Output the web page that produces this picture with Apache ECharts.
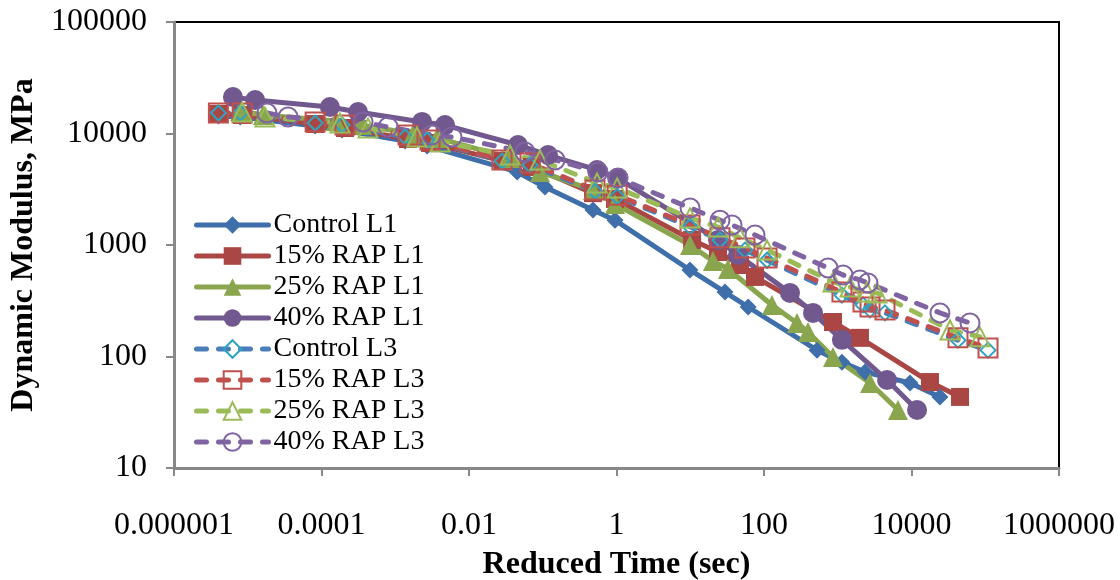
<!DOCTYPE html>
<html>
<head>
<meta charset="utf-8">
<script src="https://cdn.jsdelivr.net/npm/echarts@6/dist/echarts.min.js"></script>
<style>
   html, body { margin: 0; padding: 0; background: #fff; }
   #chart { width: 1120px; height: 580px; }
</style>
</head>
<body>
<div id="chart"></div>
<script>
   // 坐标轴刻度
   var xTickLabels = ['0.000001', '0.0001', '0.01', '1', '100', '10000', '1000000'];
   var yTickLabels = ['10', '100', '1000', '10000', '100000'];

   // Control L1
   var controlL1X = [0.000004, 0.0000079, 0.000082, 0.00019, 0.00136, 0.0027, 0.045, 0.107, 0.48, 0.955, 9.9, 29.6, 61, 523, 1140, 2340, 9550, 24300];
   var controlL1Y = [14360, 14060, 11670, 10740, 8570, 7730, 4520, 3310, 2060, 1670, 597, 378, 278, 114, 89, 72.6, 57.8, 43.4];
   // 15% RAP L1
   var rap15L1X = [0.000004, 0.0000084, 0.000082, 0.000208, 0.00149, 0.00296, 0.0289, 0.0714, 0.48, 0.955, 10.6, 23.8, 47.3, 75.5, 863, 2000, 17800, 45500];
   var rap15L1Y = [14960, 14660, 12160, 11200, 8930, 8230, 5660, 5010, 2920, 2590, 1110, 865, 662, 517, 204, 147, 59, 43.4];
   // 25% RAP L1
   var rap25L1X = [0.0000079, 0.0000161, 0.000157, 0.000354, 0.00174, 0.00368, 0.036, 0.0918, 0.48, 0.955, 9.93, 20.3, 32.5, 128, 280, 395, 863, 2740, 6560];
   var rap25L1Y = [15900, 14660, 12940, 11920, 9900, 9120, 6030, 4520, 3110, 2330, 1000, 720, 609, 290, 200, 166, 99, 57.8, 33.1];
   // 40% RAP L1
   var rap40L1X = [0.0000063, 0.0000126, 0.00013, 0.000313, 0.00231, 0.00473, 0.0461, 0.118, 0.545, 1.02, 23.8, 44.4, 225, 462, 1140, 4660, 11900];
   var rap40L1Y = [21200, 19950, 17300, 15600, 12700, 11900, 7890, 6410, 4710, 3990, 1110, 813, 372, 246, 141, 61.5, 33.1];
   // Control L3
   var controlL3X = [0.000004, 0.0000079, 0.000082, 0.00019, 0.00136, 0.0027, 0.028, 0.0671, 0.51, 1.02, 9.93, 25.3, 55.2, 110, 1140, 2200, 2740, 4370, 42700, 109000];
   var controlL3Y = [15280, 15280, 12410, 11920, 9310, 8750, 5660, 5220, 3030, 2720, 1460, 1110, 900, 730, 355, 290, 262, 246, 140, 114];
   // 15% RAP L3
   var rap15L3X = [0.000004, 0.0000084, 0.000082, 0.000208, 0.00149, 0.00296, 0.028, 0.0671, 0.51, 1.02, 9.93, 25.3, 55.2, 110, 1140, 2200, 2740, 4370, 42700, 109000];
   var rap15L3Y = [15280, 15280, 12680, 11920, 9710, 8750, 5780, 5430, 3110, 2800, 1510, 1160, 940, 764, 378, 308, 278, 261, 147, 119];
   // 25% RAP L3
   var rap25L3X = [0.0000084, 0.0000171, 0.000178, 0.000428, 0.00197, 0.00405, 0.036, 0.0918, 0.545, 1.02, 9.93, 23.8, 47.3, 110, 863, 1470, 2490, 3400, 33300, 84900];
   var rap25L3Y = [15600, 14060, 12410, 11200, 9310, 8400, 6410, 5780, 3600, 3250, 1750, 1450, 1160, 901, 466, 420, 378, 372, 173, 150];
   // 40% RAP L3
   var rap40L3X = [0.0000182, 0.0000352, 0.000366, 0.000798, 0.00315, 0.00587, 0.0574, 0.147, 0.561, 1.05, 9.93, 25.3, 36.8, 75.5, 738, 1180, 2000, 2570, 24300, 62100];
   var rap40L3Y = [15280, 14060, 12680, 11430, 9710, 9310, 6820, 5780, 4520, 3990, 2150, 1670, 1510, 1230, 622, 538, 486, 456, 246, 200];

   var serif = '"Liberation Serif", "Times New Roman", serif';

   function pairs(xs, ys){
      return xs.map(function(x, i){ return [x, ys[i]]; });
   }

   // L1: 实线 + 实心标记
   function solidSeries(name, xs, ys, color, symbol, size){
      return {
         name: name,
         type: 'line',
         data: pairs(xs, ys),
         symbol: symbol,
         symbolSize: size,
         lineStyle: {color: color, width: 5, cap: 'round', join: 'round'},
         itemStyle: {color: color},
         emphasis: {disabled: true}
      };
   }

   // L3: 虚线 + 空心标记
   function dashSeries(name, xs, ys, color, markColor, symbol, size){
      return {
         name: name,
         type: 'line',
         data: pairs(xs, ys),
         symbol: symbol,
         symbolSize: size,
         lineStyle: {color: color, width: 5, type: [10, 12], cap: 'round'},
         itemStyle: {color: 'rgba(255,255,255,0)', borderColor: markColor, borderWidth: 2},
         emphasis: {disabled: true}
      };
   }

   var myChart = echarts.init(document.getElementById('chart'));
   var option = {
      animation: false,
      grid: {
         left: 174, top: 22, right: 61, bottom: 112,
         outerBoundsMode: 'none',
         containLabel: false,
         show: true, borderColor: '#000', borderWidth: 2, backgroundColor: '#fff'
      },
      legend: {
         orient: 'vertical',
         left: 189,
         top: 206,
         itemWidth: 72,
         itemHeight: 22,
         itemGap: 3,
         lineStyle: {width: 5, cap: 'round'},
         textStyle: {fontFamily: serif, fontSize: 28, color: '#000'},
         data: ['Control L1', '15% RAP L1', '25% RAP L1', '40% RAP L1', 'Control L3', '15% RAP L3', '25% RAP L3', '40% RAP L3']
      },
      xAxis: {
         type: 'log',
         logBase: 10,
         min: 0.000001,
         max: 1000000,
         interval: 2,
         name: 'Reduced Time (sec)',
         nameLocation: 'middle',
         nameGap: 81,
         nameTextStyle: {fontFamily: serif, fontSize: 32, fontWeight: 'bold', color: '#000'},
         axisLine: {lineStyle: {color: '#888', width: 3}},
         axisTick: {inside: false, length: 8, lineStyle: {color: '#888', width: 2}},
         minorTick: {show: false},
         splitLine: {show: false},
         axisLabel: {
            margin: 42,
            fontFamily: serif, fontSize: 32, color: '#000',
            formatter: function(v, i){ return xTickLabels[i] || ''; }
         }
      },
      yAxis: {
         type: 'log',
         logBase: 10,
         min: 10,
         max: 100000,
         interval: 1,
         name: 'Dynamic Modulus, MPa',
         nameLocation: 'middle',
         nameGap: 130,
         nameTextStyle: {fontFamily: serif, fontSize: 32, fontWeight: 'bold', color: '#000'},
         axisLine: {lineStyle: {color: '#888', width: 3}},
         axisTick: {inside: false, length: 8, lineStyle: {color: '#888', width: 2}},
         minorTick: {show: false},
         splitLine: {show: false},
         axisLabel: {
            margin: 27,
            fontFamily: serif, fontSize: 32, color: '#000',
            formatter: function(v, i){ return yTickLabels[i] || ''; }
         }
      },
      series: [
         solidSeries('Control L1', controlL1X, controlL1Y, '#3F6FAA', 'diamond', 17),
         solidSeries('15% RAP L1', rap15L1X, rap15L1Y, '#AA4643', 'rect', 18),
         solidSeries('25% RAP L1', rap25L1X, rap25L1Y, '#89A54E', 'triangle', 20),
         solidSeries('40% RAP L1', rap40L1X, rap40L1Y, '#71588F', 'circle', 20),
         dashSeries('Control L3', controlL3X, controlL3Y, '#4A7EBB', '#2EA3C2', 'diamond', 15),
         dashSeries('15% RAP L3', rap15L3X, rap15L3Y, '#C0504D', '#C0504D', 'rect', 19),
         dashSeries('25% RAP L3', rap25L3X, rap25L3Y, '#9BBB59', '#9BBB59', 'triangle', 19),
         dashSeries('40% RAP L3', rap40L3X, rap40L3Y, '#8064A2', '#8064A2', 'circle', 19)
      ]
   };
   myChart.setOption(option);
</script>
</body>
</html>
